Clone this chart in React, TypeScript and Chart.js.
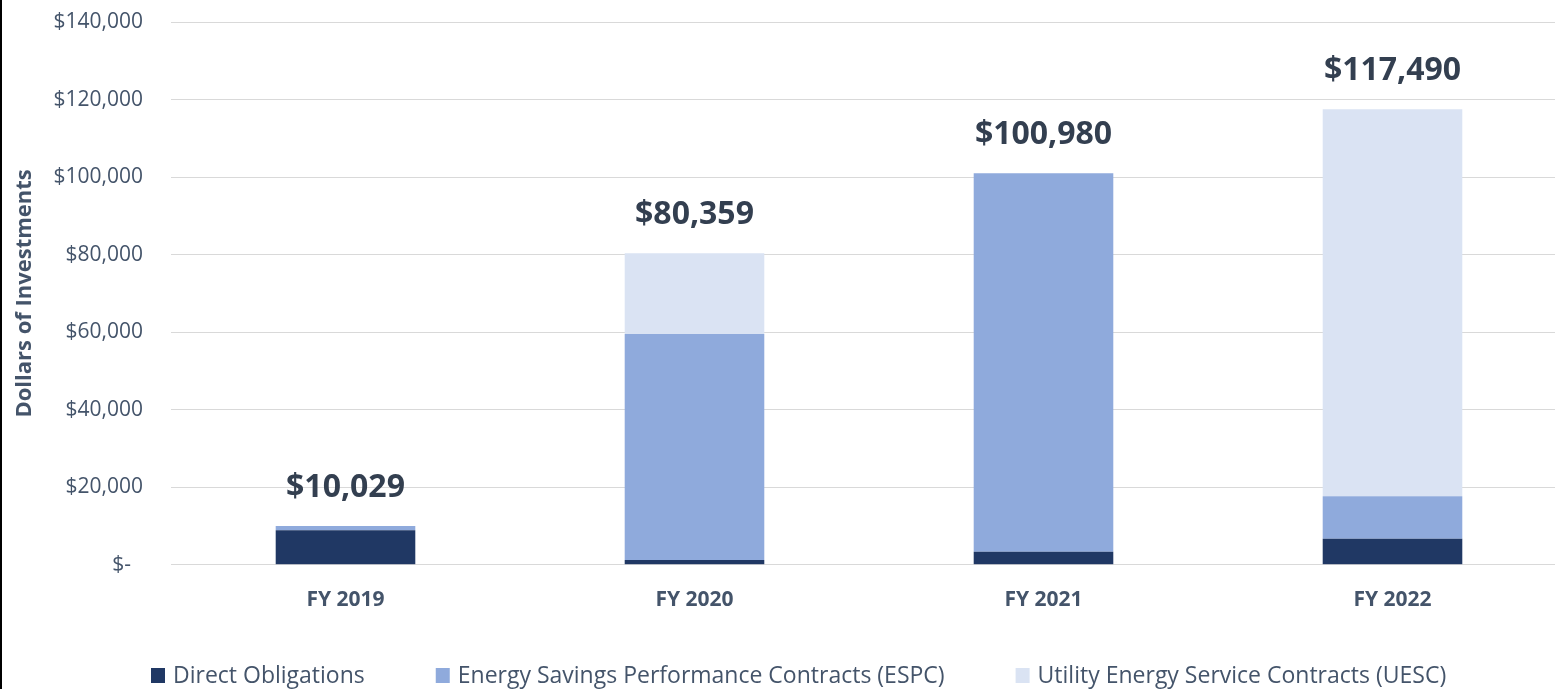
import React, { useEffect, useRef } from "react";
import { Chart, registerables } from "chart.js";

Chart.register(...registerables);

const categories = ["FY 2019", "FY 2020", "FY 2021", "FY 2022"];
const seriesNames = [
  "Direct Obligations",
  "Energy Savings Performance Contracts (ESPC)",
  "Utility Energy Service Contracts (UESC)",
];
const directObligations = [8900, 1240, 3390, 6720];
const espc = [1129, 58260, 97590, 10950];
const uesc = [0, 20859, 0, 99820];
const totals = [10029, 80359, 100980, 117490];
const totalLabels = ["$10,029", "$80,359", "$100,980", "$117,490"];
const yMax = 140000;
const yStep = 20000;

const COLORS = ["#203864", "#8FAADC", "#DAE3F3"];
const FONT = "'Open Sans', 'Noto Sans', sans-serif";
const AXIS_TEXT = "#44546A";
const TOTAL_TEXT = "#333F50";

const totalsPlugin = {
  id: "totalsPlugin",
  afterDatasetsDraw(chart: any) {
    const { ctx, scales } = chart;
    ctx.save();
    ctx.font = `bold 32px ${FONT}`;
    ctx.fillStyle = TOTAL_TEXT;
    ctx.textAlign = "center";
    ctx.textBaseline = "alphabetic";
    totals.forEach((t, i) => {
      const x = scales.x.getPixelForValue(i);
      const y = scales.y.getPixelForValue(t);
      ctx.fillText(totalLabels[i], x, y - 29);
    });
    ctx.restore();
  },
};

const legendPlugin = {
  id: "customLegend",
  afterDraw(chart: any) {
    const { ctx, chartArea } = chart;
    ctx.save();
    ctx.font = `23px ${FONT}`;
    ctx.textBaseline = "alphabetic";
    ctx.textAlign = "left";
    let x = chartArea.left - 20;
    const baseline = 683;
    chart.data.datasets.forEach((ds: any) => {
      ctx.fillStyle = ds.backgroundColor;
      ctx.fillRect(x, baseline - 15, 14, 15);
      ctx.fillStyle = AXIS_TEXT;
      const tx = x + 22;
      ctx.fillText(ds.label, tx, baseline);
      x = tx + ctx.measureText(ds.label).width + 71;
    });
    ctx.restore();
  },
};

function ChartView() {
  const ref = useRef<HTMLCanvasElement | null>(null);
  useEffect(() => {
    if (!ref.current) return;
    const chart = new Chart(ref.current, {
      type: "bar",
      data: {
        labels: categories,
        datasets: [
          { label: seriesNames[0], data: directObligations, backgroundColor: COLORS[0] },
          { label: seriesNames[1], data: espc, backgroundColor: COLORS[1] },
          { label: seriesNames[2], data: uesc, backgroundColor: COLORS[2] },
        ].map((d) => ({ ...d, barPercentage: 1, categoryPercentage: 0.4, borderWidth: 0 })),
      },
      options: {
        animation: false,
        responsive: true,
        maintainAspectRatio: false,
        layout: { padding: { top: 22, left: 0, right: 0, bottom: 53 } },
        plugins: {
          legend: { display: false },
          tooltip: { enabled: false },
        },
        scales: {
          x: {
            stacked: true,
            grid: { display: false, drawTicks: false },
            border: { display: false },
            ticks: {
              padding: 23,
              color: AXIS_TEXT,
              font: { family: FONT, size: 21, weight: "bold" },
            },
          },
          y: {
            stacked: true,
            min: 0,
            max: yMax,
            afterFit: (scale: any) => {
              scale.width = 171;
              scale.paddingTop = 12;
              scale.paddingBottom = 12;
            },
            grid: { color: "#D9D9D9", lineWidth: 1, drawTicks: false },
            border: { display: false },
            ticks: {
              stepSize: yStep,
              padding: 28,
              color: AXIS_TEXT,
              font: { family: FONT, size: 21 },
              callback: (v: any) =>
                Number(v) === 0 ? "$-\u2007" : "$" + Number(v).toLocaleString("en-US"),
            },
            title: {
              display: true,
              text: "Dollars of Investments",
              color: AXIS_TEXT,
              font: { family: FONT, size: 22, weight: "bold" },
              padding: { top: 12, bottom: 0 },
            },
          },
        },
      },
      plugins: [totalsPlugin, legendPlugin],
    } as any);
    return () => chart.destroy();
  }, []);
  return <canvas ref={ref} />;
}

export default function App() {
  return (
    <div
      style={{
        position: "absolute",
        left: 0,
        top: 0,
        width: 1555,
        height: 689,
        overflow: "hidden",
        background: "#FFFFFF",
      }}
    >
      <div style={{ position: "absolute", left: 0, top: 0, width: 1567, height: 689 }}>
        <ChartView />
      </div>
      <div
        style={{ position: "absolute", left: 0, top: 0, width: 2, height: 689, background: "#000000" }}
      />
    </div>
  );
}
